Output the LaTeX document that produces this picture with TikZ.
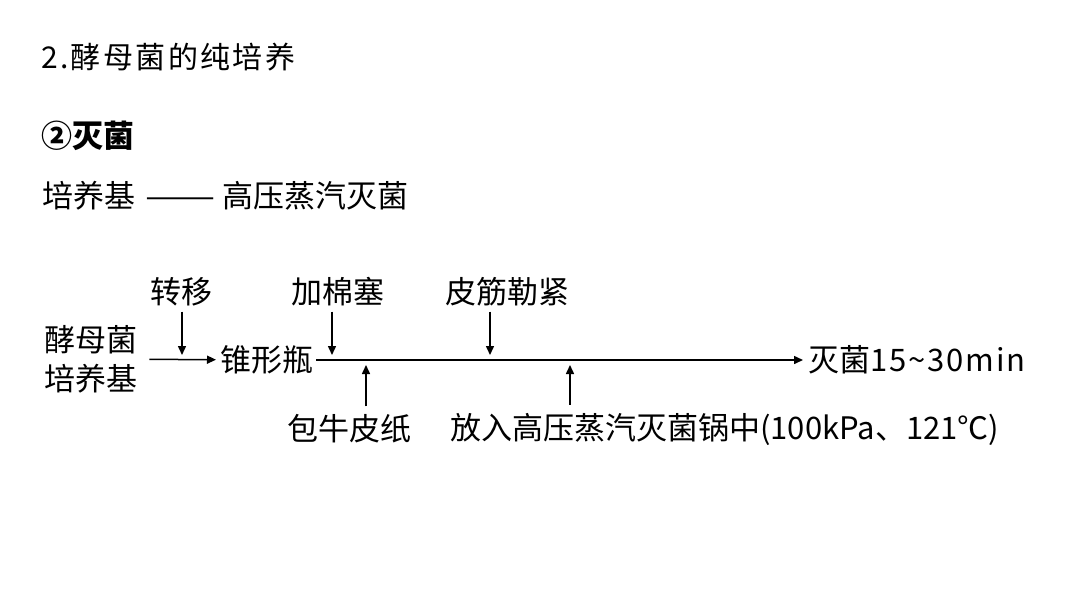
\documentclass[tikz,border=0pt]{standalone}
\usepackage{fontspec}
\setmainfont{Noto Sans CJK SC}
\newfontfamily\titlefont[LetterSpace=8]{Noto Sans CJK SC}
\newfontfamily\widefont[LetterSpace=6]{Noto Sans CJK SC}
\usetikzlibrary{arrows.meta}

\begin{document}
\begin{tikzpicture}[x=1pt,y=-1pt,
  txt/.style={inner sep=0pt,anchor=west,font=\fontsize{31}{39}\selectfont},
  lbl/.style={inner sep=0pt,font=\fontsize{31}{39}\selectfont},
  arrow/.style={-{Triangle[length=9pt,width=8pt]}, line width=1.5pt}]
  \useasboundingbox (0,0) rectangle (1080,608);
  % headings
  \node[txt,font=\titlefont\fontsize{30}{34}\selectfont] (title) at (41,57) {2.酵母菌的纯培养};
  \node[txt,font=\bfseries\fontsize{31}{36}\selectfont] (step) at (41,136) {②灭菌};
  \node[txt] (medium) at (42,196) {培养基\hspace{3pt} \scalebox{1.35}[1]{——} 高压蒸汽灭菌};
  % flow line
  \node[txt,align=left] (yeast) at (44,359) {酵母菌\\培养基};
  \node[txt] (flask) at (220,360) {锥形瓶};
  \node[txt] (result) at (808,360) {灭菌{\widefont 15\textasciitilde30min}};
  \draw[arrow,shorten <=12pt,shorten >=4pt] (yeast) -- (flask);
  \draw[arrow,shorten <=3pt,shorten >=5pt] (flask) -- (result);
  % steps above and below
  \node[lbl] (move) at (181,292) {转移};
  \node[lbl] (plug) at (338,292) {加棉塞};
  \node[lbl] (band) at (507,292) {皮筋勒紧};
  \node[lbl] (paper) at (349,429) {包牛皮纸};
  \node[lbl,anchor=west] (pot) at (450,429) {放入高压蒸汽灭菌锅中(100kPa、121℃)};
  \coordinate (t1) at (182,355);
  \coordinate (t2) at (332,355);
  \coordinate (t3) at (490,355);
  \coordinate (b1) at (366,365);
  \coordinate (b2) at (570,365);
  \draw[arrow,shorten <=5pt] (move.south -| t1) -- (t1);
  \draw[arrow,shorten <=5pt] (plug.south -| t2) -- (t2);
  \draw[arrow,shorten <=5pt] (band.south -| t3) -- (t3);
  \draw[arrow,shorten <=8pt] (paper.north -| b1) -- (b1);
  \draw[arrow,shorten <=8pt] (pot.north -| b2) -- (b2);
\end{tikzpicture}
\end{document}
